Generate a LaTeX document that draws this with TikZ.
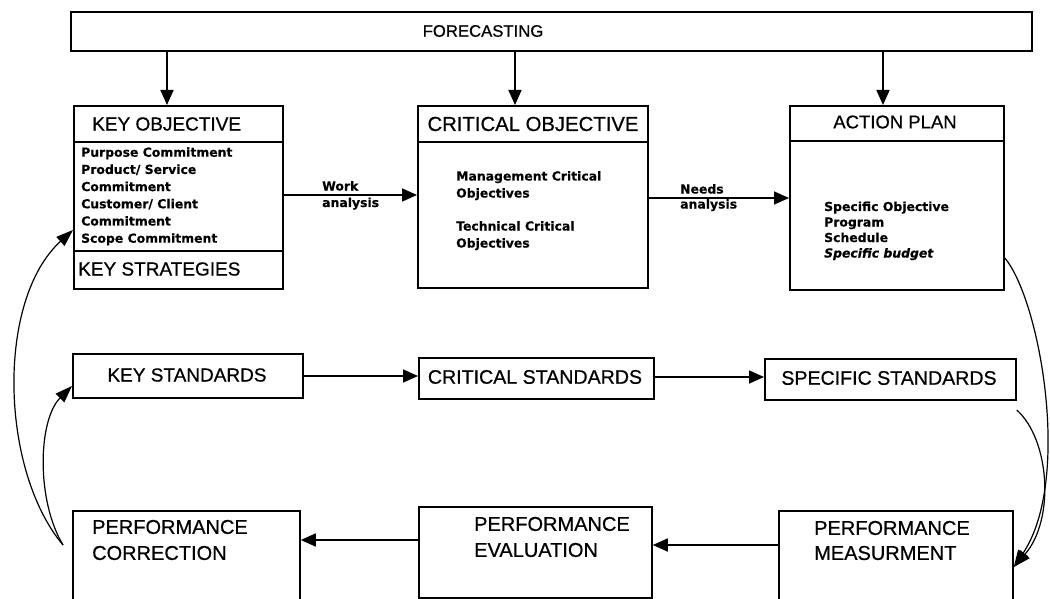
\documentclass[tikz,border=0pt]{standalone}
\usepackage{fontspec}
\setmainfont{Liberation Sans}[FakeBold=0.6]
\newfontfamily\bodyfont{DejaVu Sans}[BoldFeatures={FakeBold=0.4}, BoldItalicFeatures={FakeBold=0.4}]
\usetikzlibrary{arrows.meta}
\begin{document}
\begin{tikzpicture}[x=1pt,y=-1pt,
  box/.style={draw, line width=1.8pt, inner sep=0pt, anchor=north west},
  rule/.style={line width=1.6pt},
  arr/.style={line width=1.7pt, -{Triangle[length=15pt,width=13pt]}},
  loop/.style={line width=1.2pt, -{Triangle[length=17pt,width=12pt]}},
  head/.style={font=\fontsize{19}{24}\selectfont, inner sep=0pt},
  small/.style={font=\bodyfont\bfseries\fontsize{12.4}{17}\selectfont, inner sep=0pt, anchor=base west}]
\useasboundingbox (0,0) rectangle (1050,599);
\fill[white] (0,0) rectangle (1050,599);

% top band
\node[box, minimum width=961, minimum height=39] (forecast) at (70,11) {};
\node[font=\fontsize{16.7}{20}\selectfont, inner sep=0pt] (ftext) at (483,31) {FORECASTING};

% objective boxes
\node[box, minimum width=209, minimum height=183] (keyobj) at (73,105) {};
\draw[rule] (keyobj.west |- 0,142) -- (keyobj.east |- 0,142);
\draw[rule] (keyobj.west |- 0,251) -- (keyobj.east |- 0,251);
\node[head, anchor=west] (kohead) at (92,124) {KEY OBJECTIVE};
\foreach \t [count=\i] in {Purpose Commitment, Product/ Service, Commitment, Customer/ Client, Commitment, Scope Commitment}
  \node[small] (ko\i) at (81,139.5+17.2*\i) {\t};
\node[head, anchor=west] (kstrat) at (78,269) {KEY STRATEGIES};

\node[box, minimum width=230, minimum height=182] (critobj) at (417,105) {};
\draw[rule] (critobj.west |- 0,142) -- (critobj.east |- 0,142);
\node[head, font=\fontsize{20.3}{24}\selectfont] (cohead) at (533,124) {CRITICAL OBJECTIVE};
\node[small] (co1) at (456,180.5) {Management Critical};
\node[small] (co2) at (456,197.5) {Objectives};
\node[small] (co3) at (456,230.5) {Technical Critical};
\node[small] (co4) at (456,247.5) {Objectives};

\node[box, minimum width=214, minimum height=184] (act) at (789,105) {};
\draw[rule] (act.west |- 0,141) -- (act.east |- 0,141);
\node[head, font=\fontsize{18.5}{24}\selectfont] (aphead) at (895,122) {ACTION PLAN};
\node[small] (ap1) at (824,211) {Specific Objective};
\node[small] (ap2) at (824,226.5) {Program};
\node[small] (ap3) at (824,242) {Schedule};
\node[small, font=\bodyfont\bfseries\itshape\fontsize{12.4}{17}\selectfont] (ap4) at (824,257.5) {Specific budget};

% forecasting feeds each objective box
\coordinate (d1) at (167,0);
\coordinate (d2) at (515,0);
\coordinate (d3) at (883,0);
\draw[arr] (d1 |- forecast.south) -- (d1 |- keyobj.north);
\draw[arr] (d2 |- forecast.south) -- (d2 |- critobj.north);
\draw[arr] (d3 |- forecast.south) -- (d3 |- act.north);

% analysis links
\draw[arr] (keyobj.east |- 0,195) -- (critobj.west |- 0,195);
\node[small] (wk) at (322,190.5) {Work};
\node[small] (wa) at (322,207) {analysis};
\draw[arr] (critobj.east |- 0,198) -- (act.west |- 0,198);
\node[small] (nd) at (680,193.5) {Needs};
\node[small] (na) at (680,208.5) {analysis};

% standards row
\node[box, minimum width=230, minimum height=44] (keystd) at (72,353) {};
\node[head] (kstext) at (187,375) {KEY STANDARDS};
\node[box, minimum width=235, minimum height=41] (critstd) at (418,357) {};
\node[head, font=\fontsize{19.6}{24}\selectfont] (cstext) at (535,377) {CRITICAL STANDARDS};
\node[box, minimum width=251, minimum height=41] (specstd) at (764,358) {};
\node[head, font=\fontsize{19.6}{24}\selectfont] (sstext) at (889,378) {SPECIFIC STANDARDS};
\draw[arr] (keystd.east |- 0,376) -- (critstd.west |- 0,376);
\draw[arr] (critstd.east |- 0,377) -- (specstd.west |- 0,377);

% performance row
\node[box, minimum width=227, minimum height=95] (corr) at (72,510) {};
\node[head, font=\fontsize{20}{26}\selectfont, anchor=west] (pc1) at (92,527) {PERFORMANCE};
\node[head, font=\fontsize{20}{26}\selectfont, anchor=west] (pc2) at (92,553) {CORRECTION};
\node[box, minimum width=233, minimum height=91] (eval) at (418,506) {};
\node[head, font=\fontsize{20}{26}\selectfont, anchor=west] (pe1) at (474,524) {PERFORMANCE};
\node[head, font=\fontsize{20}{26}\selectfont, anchor=west] (pe2) at (474,550) {EVALUATION};
\node[box, minimum width=234, minimum height=95] (meas) at (778,510) {};
\node[head, font=\fontsize{20}{26}\selectfont, anchor=west] (pm1) at (814,528) {PERFORMANCE};
\node[head, font=\fontsize{20}{26}\selectfont, anchor=west] (pm2) at (814,553) {MEASURMENT};
\draw[arr] (eval.west |- 0,540) -- (corr.east |- 0,540);
\draw[arr] (meas.west |- 0,545) -- (eval.east |- 0,545);

% feedback loops
\coordinate (fb) at (63,545);
\draw[loop] (fb) .. controls (0,470) and (-4,300) .. (keyobj.west |- 0,230);
\draw[loop] (fb) .. controls (36,500) and (38,420) .. (keystd.west |- 0,386);
\draw[loop] (act.east |- 0,258) .. controls (1040,300) and (1072,480) .. (meas.east |- 0,567);
\draw[loop] (specstd.east |- 0,410) .. controls (1050,440) and (1055,520) .. (meas.east |- 0,567);
\end{tikzpicture}
\end{document}
